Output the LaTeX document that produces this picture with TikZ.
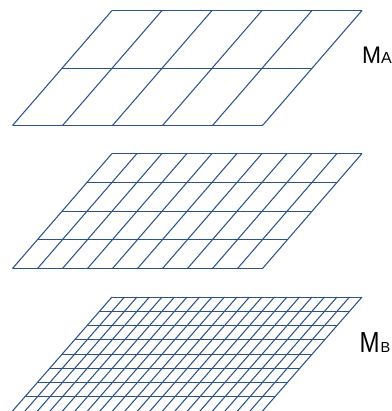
\documentclass[tikz,border=0pt]{standalone}
\usepackage{fontspec}
\setmainfont{Liberation Sans}
\definecolor{gridblue}{HTML}{2B5288}
\tikzset{x=1pt,y=-1pt,
 gridline/.style={draw=gridblue,line width=1.05pt},
 biglabel/.style={inner sep=0pt,anchor=base west,text=black}}
% #1 rows, #2 columns, #3 top y, #4 bottom y
\newcommand{\slab}[4]{%
 \foreach \i in {0,...,#1}{
  \pgfmathsetmacro{\f}{\i/#1}
  \pgfmathsetmacro{\yy}{#3+(#4-#3)*\f}
  \pgfmathsetmacro{\ys}{\yy>=411 ? 411.3 : floor(\yy)+0.5}
  \draw[gridline] ({112-99.5*\f},\ys) -- ({362-99.5*\f},\ys);
 }
 \foreach \j in {0,...,#2}{
  \pgfmathsetmacro{\g}{\j/#2}
  \draw[gridline] ({112+250*\g},#3) -- ({12.5+250*\g},#4);
 }}
\begin{document}
\begin{tikzpicture}
\useasboundingbox (0,0) rectangle (391,411);
\slab{2}{5}{10.5}{125.5}
\slab{4}{10}{153.5}{268.5}
\begin{scope}
\clip (0,0) rectangle (391,411);
\slab{8}{20}{297}{411}
\end{scope}
\node[biglabel] (ma) at (362,63.5) {\fontsize{24}{24}\selectfont\scalebox{0.95}[1]{M}\fontsize{16}{16}\selectfont A};
\node[biglabel] (mb) at (359.3,352.6) {\fontsize{29}{29}\selectfont\scalebox{0.83}[1]{M}\kern1pt\fontsize{14.5}{14.5}\selectfont B};
\end{tikzpicture}
\end{document}
